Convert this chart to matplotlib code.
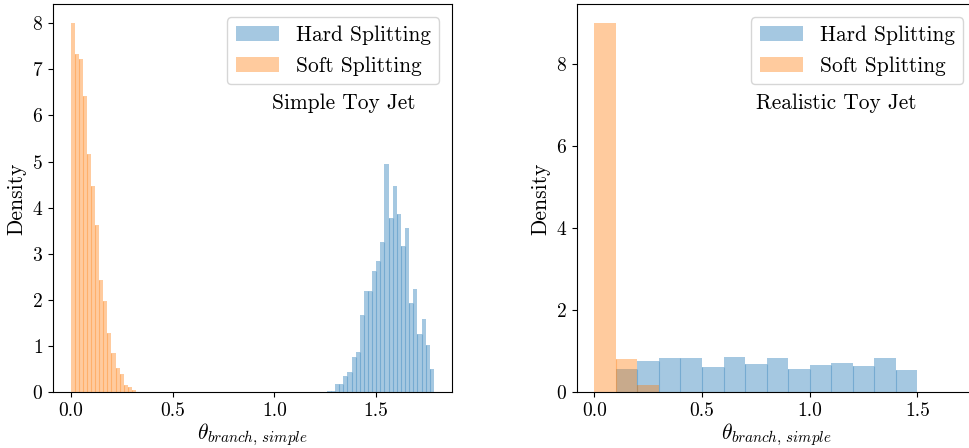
import matplotlib
matplotlib.use("Agg")
import matplotlib.pyplot as plt
import numpy as np

# Simple toy jet (bin edges + density per bin)
simple_soft_edges = np.linspace(0.0, 0.34, 18)
simple_soft_density = [8.0, 7.32, 7.21, 6.41, 5.16, 4.48, 3.62, 2.43, 1.97,
                       1.29, 0.85, 0.52, 0.39, 0.17, 0.11, 0.05, 0.02]
simple_hard_edges = np.linspace(1.258, 1.784, 27)
simple_hard_density = [0.04, 0.04, 0.19, 0.19, 0.35, 0.45, 0.76, 0.87, 1.67,
                       2.19, 2.19, 2.64, 2.84, 3.25, 4.94, 3.77, 4.48, 3.86,
                       3.16, 3.55, 1.93, 2.23, 1.26, 1.58, 1.02, 0.50]

# Realistic toy jet
realistic_hard_edges = np.linspace(0.1, 1.5, 15)
realistic_hard_density = [0.56, 0.77, 0.84, 0.84, 0.625, 0.87, 0.70, 0.84,
                          0.58, 0.67, 0.72, 0.65, 0.84, 0.55]
realistic_soft_edges = np.linspace(0.0, 0.3, 4)
realistic_soft_density = [9.0, 0.82, 0.17]

xticks = [0.0, 0.5, 1.0, 1.5]

plt.rcParams["font.family"] = "serif"
plt.rcParams["font.serif"] = ["cmr10"]
plt.rcParams["mathtext.fontset"] = "cm"
plt.rcParams["axes.formatter.use_mathtext"] = True
plt.rcParams["axes.unicode_minus"] = False


def histogram(ax, edges, vals, color, label):
    ax.hist(edges[:-1], bins=edges, weights=vals, color=color, alpha=0.4,
            label=label)
    # faint seams between neighbouring bars, as in the original render
    vals = np.asarray(vals)
    seam_tops = np.minimum(vals[:-1], vals[1:])
    ax.vlines(edges[1:-1], 0, seam_tops, color=color, alpha=0.35, lw=0.8)


def panel(ax, hard_edges, hard_vals, soft_edges, soft_vals, title, tx):
    histogram(ax, hard_edges, hard_vals, "C0", "Hard Splitting")
    histogram(ax, soft_edges, soft_vals, "C1", "Soft Splitting")
    ax.set_xticks(xticks)
    ax.set_xticklabels([f"{t:.1f}" for t in xticks])
    ax.set_xlabel(r"$\theta_{branch,\, simple}$", fontsize=15.5, labelpad=1)
    ax.set_ylabel("Density", fontsize=15.5)
    ax.tick_params(labelsize=14)
    ax.legend(loc="upper right", fontsize=15.4, borderaxespad=0.6)
    ax.text(tx, 0.745, title, transform=ax.transAxes, ha="center",
            va="center", fontsize=15.4)


fig = plt.figure(figsize=(9.7, 4.48), dpi=100)
ax1 = fig.add_axes([0.0543, 0.124, 0.4117, 0.866])
ax2 = fig.add_axes([0.5945, 0.124, 0.4117, 0.866])

panel(ax1, simple_hard_edges, simple_hard_density, simple_soft_edges,
      simple_soft_density, "Simple Toy Jet", 0.728)
ax1.set_xlim(-0.089, 1.873)
ax1.set_ylim(0, 8.4)
ax1.set_yticks(range(0, 9))

panel(ax2, realistic_hard_edges, realistic_hard_density, realistic_soft_edges,
      realistic_soft_density, "Realistic Toy Jet", 0.65)
ax2.set_xlim(-0.082, 1.772)
ax2.set_ylim(0, 9.45)
ax2.set_yticks([0, 2, 4, 6, 8])

fig.savefig("out.png", dpi=100)
